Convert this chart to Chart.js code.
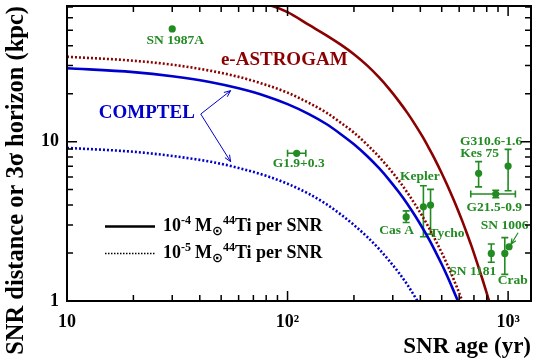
<!DOCTYPE html>
<html><head><meta charset="utf-8">
<script src="https://cdn.jsdelivr.net/npm/chart.js@4.4.1/dist/chart.umd.min.js"></script>
<style>html,body{margin:0;padding:0;background:#fff;overflow:hidden}</style>
</head><body>
<canvas id="c" width="539" height="361" style="width:539px;height:361px;display:block"></canvas>
<script>
// ---- data ----
const comptelHighAges = [10,20,30,45,60,80,100,125,150,175,200,230,260,290,320,350,380,410,440,470,500,530,560,590,620];
const comptelHigh     = [28.9,27.3,25.7,23.6,21.6,19.3,17.2,14.9,12.9,11.1,9.63,8.10,6.81,5.72,4.81,4.05,3.40,2.86,2.41,2.02,1.70,1.43,1.20,1.01,0.85];
const comptelLowAges  = [10,20,30,45,60,80,100,125,150,175,200,230,260,290,320,350,380,410];
const comptelLow      = [9.14,8.64,8.13,7.47,6.84,6.10,5.44,4.70,4.05,3.48,3.00,2.52,2.12,1.78,1.50,1.26,1.05,0.88];
const astroHighAges   = [40,60,80,100,125,150,175,200,230,260,290,320,350,380,410,440,470,500,530,560,590,620,650,680,710,740,770,800,830,860];
const astroHigh       = [88,80,73,65,54,46.5,40.5,35.4,30.0,25.3,21.3,17.9,15.1,12.7,10.7,8.97,7.55,6.34,5.33,4.48,3.77,3.17,2.66,2.24,1.88,1.58,1.33,1.12,0.94,0.79];
const astroLowAges    = [10,20,30,45,60,80,100,125,150,175,200,230,260,290,320,350,380,410,440,470,500,530,560,590,620,650];
const astroLow        = [34.1,32.2,30.4,27.8,25.5,22.7,20.3,17.5,15.2,13.1,11.4,9.55,8.03,6.75,5.68,4.77,4.01,3.38,2.84,2.39,2.01,1.69,1.42,1.19,1.00,0.84];

const snrNames  = ['SN 1987A','G1.9+0.3','Cas A','Kepler','Tycho','Kes 75','G310.6-1.6','G21.5-0.9','SN 1181','Crab','SN 1006'];
const snrAge    = [30,110,345,413,445,735,1000,879,839,966,1010];
const snrDist   = [51,8.45,3.37,3.9,4.0,6.33,7.03,4.69,1.99,1.99,2.19];
const snrDistLo = [null,null,3.11,2.53,2.63,5.2,4.92,4.45,1.75,1.47,null];
const snrDistHi = [null,null,3.68,5.29,5.02,7.49,8.95,4.95,2.28,2.5,null];
const snrAgeLo  = [null,100,null,null,null,null,null,677,null,null,null];
const snrAgeHi  = [null,121,null,null,null,null,null,1079,null,null,null];

const xTickLabels = {10:'10',100:'10²',1000:'10³'};
const yTickLabels = {1:'1',10:'10'};

// ---- styling / layout ----
const RED='#8b0000', BLUE='#0000cc', GREEN='#228b22';
const SERIF='"Liberation Serif", "Times New Roman", serif';
// label offsets (pixels) relative to each SNR marker: [dx of text centre, dy of baseline]
const labelOffsets = {
 'SN 1987A':[3,15],'G1.9+0.3':[2,13.5],'Cas A':[-9.5,17.5],'Kepler':[-3.5,-26.5],'Tycho':[16.5,31.5],
 'Kes 75':[1,-16],'G310.6-1.6':[-17,-21],'G21.5-0.9':[-1.5,17],'SN 1181':[-18.5,22],'Crab':[8,31],'SN 1006':[-4.5,-17.5]
};

const pts=(xs,ys)=>xs.map((x,i)=>({x, y:ys[i]}));
function curve(xs,ys,color,dotted){
  return {data:pts(xs,ys), showLine:true, borderColor:color, borderWidth:2.6, pointRadius:0,
    borderDash: dotted?[2,2]:[], cubicInterpolationMode:'monotone', clip:0, fill:false};
}
function arrow(ctx,x1,y1,x2,y2,h){
  const a=Math.atan2(y2-y1,x2-x1);
  ctx.beginPath(); ctx.moveTo(x1,y1); ctx.lineTo(x2,y2);
  ctx.moveTo(x2-h*Math.cos(a-0.4),y2-h*Math.sin(a-0.4)); ctx.lineTo(x2,y2);
  ctx.lineTo(x2-h*Math.cos(a+0.4),y2-h*Math.sin(a+0.4)); ctx.stroke();
}
function legendText(ctx,x,y,exp){
  const main='bold 18px '+SERIF, sup='bold 12px '+SERIF;
  ctx.textAlign='left'; ctx.textBaseline='alphabetic'; ctx.fillStyle='#000';
  ctx.font=main; ctx.fillText('10',x,y); x+=ctx.measureText('10').width;
  ctx.font=sup; ctx.fillText(exp,x,y-7); x+=ctx.measureText(exp).width+4;
  ctx.font=main; ctx.fillText('M',x,y); x+=ctx.measureText('M').width;
  ctx.font='bold 13px "DejaVu Sans"'; ctx.fillText('⊙',x,y+4); x+=ctx.measureText('⊙').width;
  ctx.font=sup; ctx.fillText('44',x,y-7); x+=ctx.measureText('44').width;
  ctx.font=main; ctx.fillText('Ti per SNR',x,y);
}

const drawPlugin = {
  id:'extras',
  beforeDatasetsDraw(chart){
    const {ctx, scales:{x,y}} = chart;
    ctx.save(); ctx.strokeStyle=GREEN; ctx.lineWidth=1.6;
    snrNames.forEach((n,i)=>{
      const px=x.getPixelForValue(snrAge[i]), py=y.getPixelForValue(snrDist[i]);
      if(snrDistLo[i]!=null){
        const y1=y.getPixelForValue(snrDistHi[i]), y2=y.getPixelForValue(snrDistLo[i]);
        ctx.beginPath(); ctx.moveTo(px,y1); ctx.lineTo(px,y2);
        ctx.moveTo(px-3.5,y1); ctx.lineTo(px+3.5,y1); ctx.moveTo(px-3.5,y2); ctx.lineTo(px+3.5,y2); ctx.stroke();
      }
      if(snrAgeLo[i]!=null){
        const x1=x.getPixelForValue(snrAgeLo[i]), x2=x.getPixelForValue(snrAgeHi[i]);
        ctx.beginPath(); ctx.moveTo(x1,py); ctx.lineTo(x2,py);
        ctx.moveTo(x1,py-3.5); ctx.lineTo(x1,py+3.5); ctx.moveTo(x2,py-3.5); ctx.lineTo(x2,py+3.5); ctx.stroke();
      }
    });
    ctx.restore();
  },
  afterDatasetsDraw(chart){
    const {ctx, chartArea:a, scales:{x,y}} = chart;
    ctx.save();
    // SNR labels
    ctx.fillStyle=GREEN; ctx.font='bold 13.5px '+SERIF; ctx.textAlign='center'; ctx.textBaseline='alphabetic';
    snrNames.forEach((n,i)=>{
      const px=x.getPixelForValue(snrAge[i]), py=y.getPixelForValue(snrDist[i]);
      const o=labelOffsets[n]; ctx.fillText(n,px+o[0],py+o[1]);
    });
    // SN 1006 pointer
    { const i=snrNames.indexOf('SN 1006');
      const px=x.getPixelForValue(snrAge[i]), py=y.getPixelForValue(snrDist[i]);
      ctx.strokeStyle=GREEN; ctx.lineWidth=1.2; arrow(ctx,px+9,py-14,px+2,py-2.5,6); }
    // instrument labels
    ctx.font='bold 19px '+SERIF;
    ctx.fillStyle=RED; ctx.fillText('e-ASTROGAM', x.getPixelForValue(96.6), y.getPixelForValue(30.4));
    ctx.fillStyle=BLUE; ctx.fillText('COMPTEL', x.getPixelForValue(23.0), y.getPixelForValue(14.0));
    ctx.strokeStyle=BLUE; ctx.lineWidth=1;
    const ox=x.getPixelForValue(40.4), oy=y.getPixelForValue(14.9);
    arrow(ctx,ox,oy,x.getPixelForValue(55.2),y.getPixelForValue(20.9),7);
    arrow(ctx,ox,oy,x.getPixelForValue(55.2),y.getPixelForValue(7.49),7);
    // legend
    ctx.strokeStyle='#000'; ctx.lineWidth=2.5; ctx.setLineDash([]);
    ctx.beginPath(); ctx.moveTo(105,226.5); ctx.lineTo(155,226.5); ctx.stroke();
    ctx.lineWidth=1.5; ctx.setLineDash([1.5,1.5]);
    ctx.beginPath(); ctx.moveTo(105,253.5); ctx.lineTo(155,253.5); ctx.stroke(); ctx.setLineDash([]);
    legendText(ctx,163,231,'-4');
    legendText(ctx,163,258,'-5');
    // frame and inward ticks
    ctx.strokeStyle='#000'; ctx.lineWidth=2;
    ctx.strokeRect(a.left,a.top,a.right-a.left,a.bottom-a.top);
    ctx.lineWidth=1.5;
    for(let d=1; d<=1000; d*=10){
      for(let m=1;m<10;m++){
        const v=m*d, L=(m===1)?10:6;
        if(v>=x.min && v<=x.max){ const px=x.getPixelForValue(v);
          ctx.beginPath(); ctx.moveTo(px,a.bottom); ctx.lineTo(px,a.bottom-L); ctx.moveTo(px,a.top); ctx.lineTo(px,a.top+L); ctx.stroke(); }
        if(v>=y.min && v<=y.max){ const py=y.getPixelForValue(v);
          ctx.beginPath(); ctx.moveTo(a.left,py); ctx.lineTo(a.left+L,py); ctx.moveTo(a.right,py); ctx.lineTo(a.right-L,py); ctx.stroke(); }
      }
    }
    ctx.restore();
  }
};

const isDecade=v=>Math.abs(Math.log10(v)-Math.round(Math.log10(v)))<1e-6;
new Chart(document.getElementById('c').getContext('2d'), {
  type:'scatter',
  data:{datasets:[
    curve(astroHighAges,astroHigh,RED,false),
    curve(astroLowAges,astroLow,RED,true),
    curve(comptelHighAges,comptelHigh,BLUE,false),
    curve(comptelLowAges,comptelLow,BLUE,true),
    {data:pts(snrAge,snrDist), pointRadius:3.6, pointBackgroundColor:GREEN, pointBorderColor:GREEN, pointBorderWidth:0, showLine:false}
  ]},
  options:{
    responsive:false, animation:false, devicePixelRatio:1,
    layout:{padding:{top:6,right:8,left:0,bottom:0}},
    plugins:{legend:{display:false}, tooltip:{enabled:false}},
    scales:{
      x:{type:'logarithmic', min:10, max:1270, position:'bottom',
         grid:{display:false, drawTicks:false}, border:{display:false},
         ticks:{autoSkip:false, maxRotation:0, padding:11, color:'#000', font:{family:SERIF, weight:'bold', size:18},
           callback:v=> isDecade(v) ? (xTickLabels[Math.round(v)]||'') : ''},
         title:{display:true, text:'SNR age (yr)', align:'end', color:'#000', padding:0, font:{family:SERIF, weight:'bold', size:23}},
         afterFit:s=>{s.height=60; s.paddingLeft=0; s.paddingRight=0;}},
      y:{type:'logarithmic', min:1, max:71, position:'left',
         grid:{display:false, drawTicks:false}, border:{display:false},
         ticks:{autoSkip:false, padding:8, color:'#000', font:{family:SERIF, weight:'bold', size:18},
           callback:v=> isDecade(v) ? (yTickLabels[Math.round(v)]||'') : ''},
         title:{display:true, text:'SNR distance or 3σ horizon (kpc)', align:'end', color:'#000', padding:{top:2,bottom:0}, font:{family:SERIF, weight:'bold', size:24.5}},
         afterFit:s=>{s.width=67; s.paddingTop=0; s.paddingBottom=0;}}
    }
  },
  plugins:[drawPlugin]
});
</script>
</body></html>
